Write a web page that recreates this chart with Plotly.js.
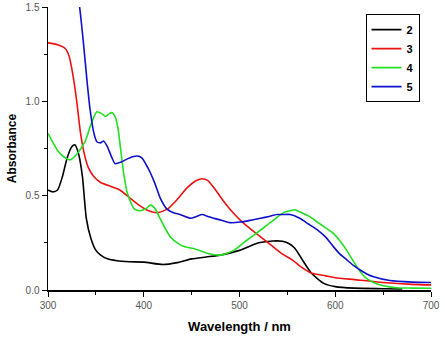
<!DOCTYPE html>
<html><head><meta charset="utf-8">
<script src="https://cdn.plot.ly/plotly-3.0.1.min.js"></script>
<style>html,body{margin:0;padding:0;background:#fff}#chart{width:445px;height:340px}</style>
</head><body><div id="chart"></div>
<script>
const seriesNames = ["2", "3", "4", "5"];
const seriesColors = ["#000000", "#ee1111", "#22e022", "#1010cc"];

const x2 = [300,305,310,315,320,325,328,332,336,340,345,350,355,362,372,385,400,420,435,450,465,480,500,520,535,545,552,558,565,575,588,600,620,650,670];
const y2 = [0.53,0.52,0.53,0.6,0.7,0.76,0.77,0.72,0.6,0.38,0.27,0.21,0.185,0.165,0.155,0.15,0.148,0.135,0.145,0.165,0.175,0.185,0.21,0.25,0.26,0.258,0.245,0.22,0.165,0.09,0.035,0.018,0.01,0.007,0.005];

const x3 = [300,310,318,322,326,330,334,338,342,348,355,365,375,385,395,405,415,425,435,445,455,461,467,475,485,495,505,515,525,535,545,555,565,575,590,600,620,650,680,700];
const y3 = [1.31,1.30,1.28,1.24,1.14,1.0,0.83,0.72,0.65,0.6,0.57,0.55,0.53,0.49,0.45,0.42,0.41,0.43,0.48,0.54,0.58,0.59,0.58,0.53,0.46,0.40,0.35,0.31,0.27,0.23,0.19,0.16,0.12,0.09,0.075,0.065,0.055,0.04,0.03,0.027];

const x4 = [300,310,318,323,330,339,345,351,356,360,364,367,370,373,376,379,383,390,396,402,407,412,417,422,428,435,442,452,466,480,494,508,520,529,538,546,553,558,563,573,584,598,605,612,618,623,628,633,640,647,655,664,680,700];
const y4 = [0.83,0.74,0.70,0.69,0.72,0.79,0.88,0.945,0.935,0.92,0.935,0.94,0.92,0.86,0.74,0.62,0.51,0.43,0.42,0.43,0.45,0.43,0.38,0.33,0.28,0.25,0.23,0.22,0.195,0.185,0.21,0.265,0.31,0.345,0.38,0.41,0.42,0.425,0.415,0.39,0.35,0.30,0.26,0.21,0.16,0.12,0.085,0.06,0.04,0.026,0.018,0.012,0.01,0.009];

const x5 = [330,333,337,341,344,348,351,355,358,362,366,370,377,385,393,398,403,407,412,417,424,431,438,449,455,461,467,473,481,490,501,512,522,531,539,546,553,563,572,581,590,598,605,612,619,626,633,640,657,680,700];
const y5 = [1.6,1.5,1.31,1.095,0.954,0.83,0.786,0.78,0.79,0.76,0.71,0.67,0.68,0.70,0.71,0.70,0.66,0.62,0.56,0.49,0.43,0.41,0.40,0.38,0.39,0.40,0.39,0.38,0.37,0.357,0.36,0.37,0.38,0.39,0.40,0.40,0.40,0.38,0.35,0.32,0.28,0.23,0.19,0.16,0.13,0.106,0.085,0.07,0.05,0.042,0.04];

const xs = [x2, x3, x4, x5];
const ys = [y2, y3, y4, y5];

const traces = xs.map((x, i) => ({
  x: x, y: ys[i], name: seriesNames[i], type: 'scatter', mode: 'lines',
  line: {color: seriesColors[i], width: 1.6, shape: 'spline', smoothing: 0.6}
}));

const tickFont = {family: 'Arial, Liberation Sans, sans-serif', size: 10, color: '#555'};
const layout = {
  width: 445, height: 340,
  margin: {l: 48, r: 14, t: 7, b: 50},
  paper_bgcolor: '#fff', plot_bgcolor: '#fff',
  showlegend: true,
  legend: {
    x: 0.97, y: 0.975, xanchor: 'right', yanchor: 'top',
    bordercolor: '#000', borderwidth: 1, bgcolor: '#fff',
    font: {family: 'Arial, Liberation Sans, sans-serif', size: 11, color: '#000', weight: 'bold'},
    itemwidth: 30, tracegroupgap: 0
  },
  xaxis: {
    range: [300, 700], tickvals: [300, 400, 500, 600, 700],
    ticks: 'outside', ticklen: 5, tickwidth: 1, tickcolor: '#000',
    minor: {dtick: 50, tick0: 300, ticks: 'outside', ticklen: 3, tickcolor: '#000', showgrid: false},
    showline: true, linecolor: '#000', linewidth: 1.5, showgrid: false, zeroline: false,
    tickfont: tickFont,
    title: {text: 'Wavelength / nm', font: {family: 'Arial, Liberation Sans, sans-serif', size: 13, color: '#000', weight: 'bold'}, standoff: 12}
  },
  yaxis: {
    range: [0, 1.5], tickvals: [0, 0.5, 1.0, 1.5], ticktext: ['0.0', '0.5', '1.0', '1.5'],
    ticks: 'outside', ticklen: 5, tickwidth: 1, tickcolor: '#000',
    minor: {dtick: 0.25, tick0: 0, ticks: 'outside', ticklen: 3, tickcolor: '#000', showgrid: false},
    showline: true, linecolor: '#000', linewidth: 1.5, showgrid: false, zeroline: false,
    tickfont: tickFont,
    title: {text: 'Absorbance', font: {family: 'Arial, Liberation Sans, sans-serif', size: 12, color: '#000', weight: 'bold'}, standoff: 6}
  }
};

Plotly.newPlot('chart', traces, layout, {staticPlot: true, displayModeBar: false});
</script>
</body></html>
